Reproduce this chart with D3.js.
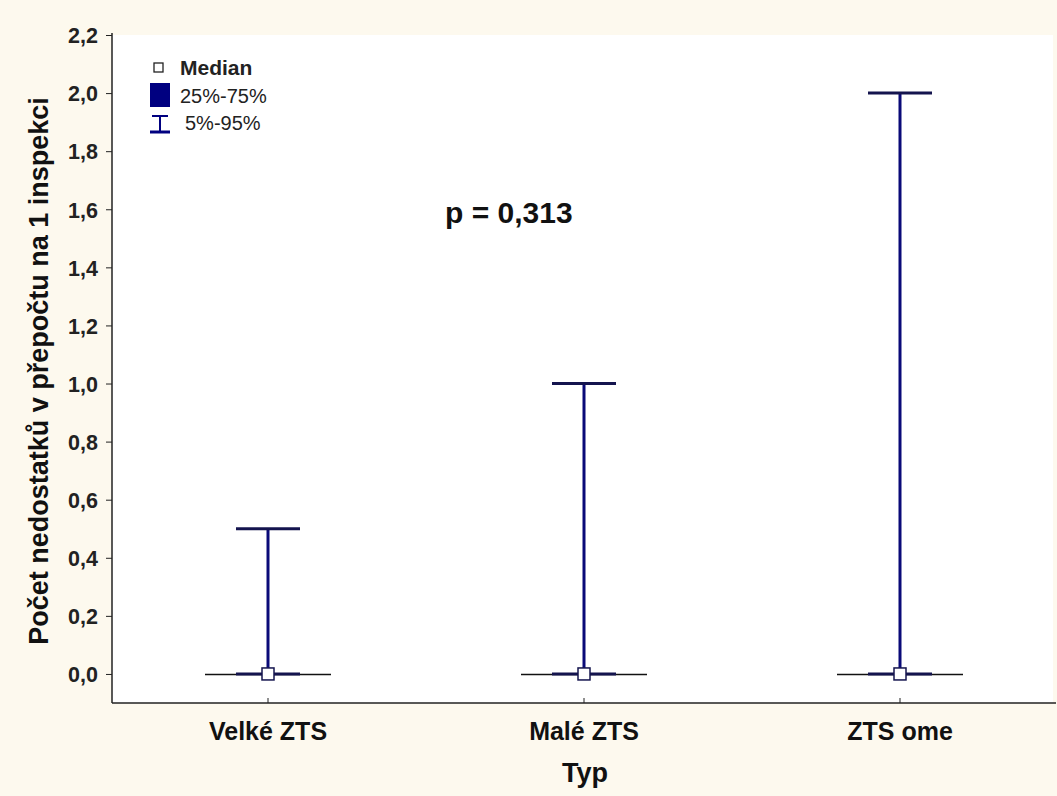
<!DOCTYPE html>
<html><head><meta charset="utf-8">
<script src="https://cdn.jsdelivr.net/npm/d3@7"></script>
<style>body{margin:0;background:#fdf9ee;} svg{display:block;}</style>
</head><body>
<svg id="c" width="1057" height="796"></svg>
<script>
const categories = ["Velké ZTS", "Malé ZTS", "ZTS ome"];
const medians = [0, 0, 0];
const q25 = [0, 0, 0];
const q75 = [0, 0, 0];
const p05 = [0, 0, 0];
const p95 = [0.5, 1.0, 2.0];
const yTicks = [0, 0.2, 0.4, 0.6, 0.8, 1.0, 1.2, 1.4, 1.6, 1.8, 2.0, 2.2];
const yTitle = "Počet nedostatků v přepočtu na 1 inspekci";
const xTitle = "Typ";
const pText = "p = 0,313";
const legendLabels = ["Median", "25%-75%", "5%-95%"];

(function(){
const svg = d3.select("#c");
const font = "Arial, 'Liberation Sans', sans-serif";
const navy = "#0a0a78", capCol = "#14144e";

svg.append("rect").attr("width",1057).attr("height",796).attr("fill","#fdf9ee");
const pL = 112, pR = 1053, pT = 35, pB = 703;
svg.append("rect").attr("x",pL).attr("y",pT).attr("width",pR-pL).attr("height",pB-pT).attr("fill","#fff");

const y = d3.scaleLinear().domain([-0.1, 2.2]).range([pB, pT]);
const x = d3.scaleBand().domain(categories).range([110, 1058]);

// y axis
const ya = svg.append("g").attr("transform",`translate(${pL},0)`)
  .call(d3.axisLeft(y).tickValues(yTicks).tickSize(6).tickPadding(8)
    .tickFormat(d => d3.format(".1f")(d).replace(".", ",")));
ya.select(".domain").attr("d", `M0,${pT-2}V${pB}`).attr("stroke","#222").attr("stroke-width",1.5);
ya.selectAll(".tick line").attr("stroke","#222");
ya.selectAll("text").attr("font-family",font).attr("font-weight","bold").attr("font-size",21.5).attr("fill","#222")
  .attr("dy","0.36em");

// x axis
const xa = svg.append("g").attr("transform",`translate(0,${pB})`)
  .call(d3.axisBottom(x).tickSize(-5));
xa.select(".domain").attr("d", `M${pL},0H1056`).attr("stroke","#222").attr("stroke-width",1.5);
xa.selectAll(".tick line").attr("stroke","#222");
xa.selectAll("text").attr("font-family",font).attr("font-weight","bold").attr("font-size",25).attr("fill","#111")
  .attr("y",37).attr("dy",0);

// titles
svg.append("text").attr("transform",`translate(48,371) rotate(-90)`)
  .attr("text-anchor","middle").attr("font-family",font).attr("font-weight","bold").attr("font-size",27).attr("fill","#111").text(yTitle);
svg.append("text").attr("x",585).attr("y",782).attr("text-anchor","middle")
  .attr("font-family",font).attr("font-weight","bold").attr("font-size",27).attr("fill","#111").text(xTitle);

// box plots
const g = svg.append("g");
categories.forEach((c,i) => {
  const cx = x(c) + x.bandwidth()/2;
  g.append("line").attr("x1",cx-63).attr("x2",cx+63).attr("y1",y(q25[i])+0.5).attr("y2",y(q75[i])+0.5)
    .attr("stroke","#111").attr("stroke-width",1.5);
  g.append("line").attr("x1",cx).attr("x2",cx).attr("y1",y(p05[i])).attr("y2",y(p95[i]))
    .attr("stroke",navy).attr("stroke-width",3);
  [p05[i], p95[i]].forEach(v => {
    g.append("line").attr("x1",cx-32).attr("x2",cx+32).attr("y1",y(v)).attr("y2",y(v))
      .attr("stroke",capCol).attr("stroke-width",3);
  });
  g.append("rect").attr("x",cx-6).attr("y",y(medians[i])-6).attr("width",12).attr("height",12)
    .attr("fill","#fff").attr("stroke",capCol).attr("stroke-width",1.5);
});

svg.append("text").attr("x",445).attr("y",223).attr("font-family",font).attr("font-weight","bold")
  .attr("font-size",30).attr("fill","#111").text(pText);

// legend
const lg = svg.append("g");
lg.append("rect").attr("x",154).attr("y",63).attr("width",9).attr("height",9).attr("fill","#fff").attr("stroke","#222").attr("stroke-width",1.3);
lg.append("text").attr("x",180).attr("y",75).attr("font-family",font).attr("font-weight","bold").attr("font-size",21).attr("fill","#222").text(legendLabels[0]);
lg.append("rect").attr("x",150).attr("y",83).attr("width",20).attr("height",24).attr("fill","#000080");
lg.append("text").attr("x",180).attr("y",103).attr("font-family",font).attr("font-size",20).attr("fill","#222").text(legendLabels[1]);
lg.append("line").attr("x1",160).attr("x2",160).attr("y1",115).attr("y2",132).attr("stroke","#000080").attr("stroke-width",2);
lg.append("line").attr("x1",152).attr("x2",168).attr("y1",116).attr("y2",116).attr("stroke","#000080").attr("stroke-width",2);
lg.append("line").attr("x1",150).attr("x2",170).attr("y1",132).attr("y2",132).attr("stroke","#000080").attr("stroke-width",3);
lg.append("text").attr("x",185).attr("y",130).attr("font-family",font).attr("font-size",20).attr("fill","#222").text(legendLabels[2]);
})();
</script>
</body></html>
